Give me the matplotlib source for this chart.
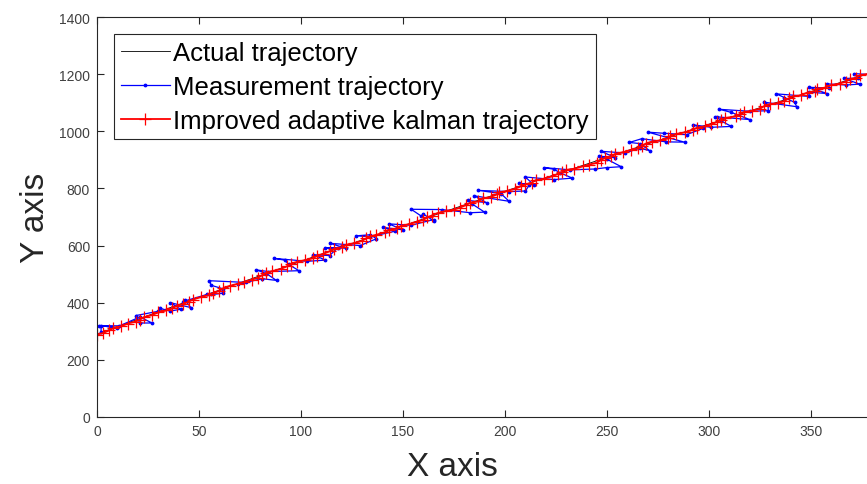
import matplotlib
matplotlib.use("Agg")
import matplotlib.pyplot as plt

plt.rcParams['font.family'] = ['Liberation Sans', 'DejaVu Sans']

# actual trajectory (smooth path)
actual_x = [0, 30, 60, 90, 120, 150, 180, 210, 240, 270, 300, 330, 360, 378]
actual_y = [290, 368, 444, 520, 595, 669, 742, 814, 885, 956, 1025, 1094, 1161, 1201]

# measurement trajectory
meas_x = [2, 2, 10, 1, 11, 21, 27, 21, 19, 30,
          31, 36, 41, 36, 46, 43, 42, 54, 62, 56,
          62, 56, 55, 73, 69, 81, 88, 83, 78, 84,
          99, 94, 92, 87, 103, 112, 106, 114, 118, 112,
          122, 114, 129, 137, 134, 127, 134, 146, 140, 150,
          143, 154, 165, 165, 160, 159, 154, 169, 183, 190,
          184, 182, 191, 185, 202, 198, 187, 202, 210, 212,
          207, 214, 210, 224, 233, 227, 224, 219, 232, 244,
          250, 257, 250, 246, 254, 247, 259, 266, 271, 266,
          261, 267, 279, 288, 270, 278, 289, 297, 292, 301,
          311, 306, 304, 303, 320, 311, 305, 320, 329, 329,
          327, 343, 342, 337, 333, 349, 349, 358, 349, 359,
          358, 367, 374, 366, 373, 371, 380]
meas_y = [298, 320, 312, 320, 319, 350, 329, 329, 355, 370,
          380, 371, 377, 400, 383, 411, 404, 429, 433, 431,
          448, 461, 477, 471, 465, 484, 478, 502, 515, 509,
          512, 534, 549, 555, 545, 549, 568, 565, 592, 592,
          591, 608, 600, 624, 638, 634, 631, 650, 664, 655,
          676, 671, 691, 687, 710, 703, 727, 726, 715, 717,
          745, 758, 750, 774, 755, 782, 793, 789, 791, 813,
          818, 813, 840, 831, 836, 855, 867, 873, 865, 868,
          873, 876, 902, 913, 908, 930, 924, 941, 932, 957,
          961, 974, 963, 962, 997, 993, 988, 1010, 1023, 1014,
          1017, 1036, 1049, 1051, 1041, 1066, 1077, 1070, 1072, 1093,
          1102, 1086, 1101, 1118, 1131, 1122, 1137, 1132, 1154, 1151,
          1166, 1162, 1165, 1185, 1186, 1202, 1198]

# improved adaptive kalman estimate
kf_x = [0, 3, 6, 8, 12, 15, 19, 21, 23, 27,
        30, 34, 37, 39, 42, 45, 47, 51, 55, 57,
        60, 62, 65, 69, 72, 76, 79, 81, 83, 86,
        90, 93, 95, 98, 102, 106, 108, 111, 114, 116,
        120, 122, 126, 130, 132, 134, 137, 141, 143, 147,
        149, 153, 157, 160, 162, 164, 167, 171, 175, 178,
        181, 183, 187, 189, 193, 196, 197, 201, 205, 208,
        210, 213, 215, 219, 223, 226, 228, 230, 234, 238,
        241, 245, 247, 249, 252, 254, 258, 262, 265, 267,
        269, 272, 276, 280, 281, 284, 288, 292, 294, 298,
        301, 304, 306, 308, 313, 315, 317, 321, 325, 327,
        330, 334, 337, 339, 341, 345, 348, 352, 353, 357,
        360, 364, 367, 369, 372, 374, 378]
kf_y = [288, 294, 303, 311, 318, 327, 334, 341, 349, 357,
        366, 373, 380, 389, 395, 404, 411, 420, 427, 434,
        442, 451, 459, 466, 472, 481, 488, 496, 505, 511,
        518, 527, 536, 543, 549, 556, 565, 571, 580, 588,
        594, 603, 608, 617, 625, 632, 638, 646, 655, 660,
        669, 675, 684, 690, 699, 705, 714, 721, 726, 733,
        742, 750, 755, 765, 770, 779, 786, 791, 799, 808,
        814, 820, 829, 834, 842, 851, 858, 865, 869, 877,
        883, 890, 899, 907, 912, 921, 927, 935, 940, 949,
        957, 964, 968, 975, 984, 991, 996, 1005, 1012, 1017,
        1024, 1033, 1040, 1047, 1052, 1060, 1067, 1072, 1079, 1088,
        1095, 1099, 1106, 1115, 1122, 1126, 1135, 1140, 1149, 1153,
        1162, 1167, 1174, 1182, 1187, 1196, 1201]

fig = plt.figure(figsize=(8.67, 4.85), dpi=100)
ax = fig.add_axes([97/867, 67/485, 816/867, 400/485])

ax.plot(actual_x, actual_y, color='black', lw=0.6, label='Actual trajectory')
ax.plot(meas_x, meas_y, color='#0000ff', lw=0.9, marker='.', ms=3.5,
        label='Measurement trajectory')
ax.plot(kf_x, kf_y, color='#ff0000', lw=1.3, marker='+', ms=9, mew=0.9,
        label='Improved adaptive kalman trajectory')

ax.set_xlim(0, 400)
ax.set_ylim(0, 1400)
ax.set_xticks(range(0, 351, 50))
ax.set_yticks(range(0, 1401, 200))
ax.tick_params(direction='in', length=5, width=0.8, top=True, right=True,
               labelsize=10, colors='#262626', labelcolor='#404040', pad=5)
for s in ax.spines.values():
    s.set_color('#262626')
    s.set_linewidth(0.8)

ax.set_xlabel('X axis', fontsize=24, color='#262626')
ax.xaxis.set_label_coords(0.435, -0.085)
ax.set_ylabel('Y axis', fontsize=24, color='#262626', labelpad=6)

leg = ax.legend(loc='upper left', bbox_to_anchor=(0.021, 0.9575), borderaxespad=0,
                fontsize=18.5, handlelength=1.9, handletextpad=0.15,
                labelspacing=0.39, borderpad=0.26, fancybox=False,
                edgecolor='#262626', framealpha=1)
leg.get_frame().set_linewidth(0.8)

fig.savefig('out.png', dpi=100)
